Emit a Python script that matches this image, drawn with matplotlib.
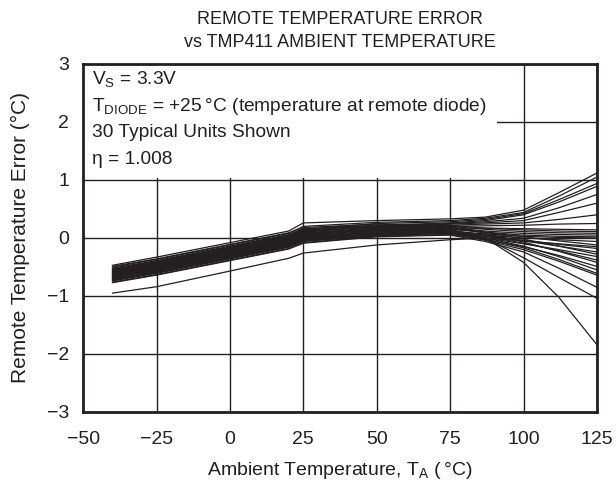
import matplotlib
matplotlib.use('Agg')
import matplotlib.pyplot as plt
from matplotlib.patches import Rectangle

plt.rcParams['font.family'] = ['Liberation Sans', 'DejaVu Sans']
plt.rcParams['mathtext.fontset'] = 'custom'
plt.rcParams['mathtext.rm'] = 'Liberation Sans'

# ambient temperature sample points (deg C)
temps = [-40, -25, 0, 20, 25, 50, 75, 87, 100, 112, 125]

# remote temperature error for 30 units (deg C)
units = [
    [-0.47, -0.33, -0.08, 0.12, 0.26, 0.30, 0.33, 0.36, 0.48, 0.78, 1.12],
    [-0.50, -0.37, -0.12, 0.08, 0.20, 0.27, 0.30, 0.34, 0.44, 0.72, 1.05],
    [-0.53, -0.40, -0.15, 0.05, 0.15, 0.25, 0.28, 0.32, 0.42, 0.66, 0.94],
    [-0.55, -0.42, -0.17, 0.03, 0.13, 0.22, 0.26, 0.30, 0.40, 0.62, 0.89],
    [-0.58, -0.45, -0.20, 0.00, 0.10, 0.20, 0.25, 0.28, 0.34, 0.52, 0.75],
    [-0.60, -0.47, -0.22, -0.02, 0.08, 0.18, 0.24, 0.26, 0.30, 0.44, 0.60],
    [-0.62, -0.49, -0.24, -0.04, 0.06, 0.17, 0.22, 0.24, 0.26, 0.32, 0.40],
    [-0.64, -0.51, -0.26, -0.06, 0.04, 0.15, 0.20, 0.21, 0.22, 0.24, 0.25],
    [-0.66, -0.53, -0.28, -0.08, 0.02, 0.13, 0.17, 0.17, 0.16, 0.15, 0.14],
    [-0.49, -0.36, -0.11, 0.09, 0.18, 0.24, 0.22, 0.17, 0.14, 0.12, 0.11],
    [-0.52, -0.39, -0.14, 0.06, 0.16, 0.22, 0.20, 0.15, 0.11, 0.09, 0.08],
    [-0.56, -0.43, -0.18, 0.02, 0.12, 0.19, 0.18, 0.12, 0.08, 0.06, 0.05],
    [-0.59, -0.46, -0.21, -0.01, 0.09, 0.16, 0.15, 0.10, 0.05, 0.03, 0.02],
    [-0.68, -0.55, -0.30, -0.10, 0.00, 0.10, 0.12, 0.07, 0.03, 0.01, 0.00],
    [-0.70, -0.57, -0.32, -0.12, -0.02, 0.08, 0.10, 0.05, 0.00, -0.03, -0.06],
    [-0.61, -0.48, -0.23, -0.03, 0.07, 0.16, 0.16, 0.10, 0.02, -0.05, -0.12],
    [-0.63, -0.50, -0.25, -0.05, 0.05, 0.14, 0.15, 0.00, -0.42, -1.02, -1.84],
    [-0.72, -0.59, -0.34, -0.14, -0.04, 0.06, 0.09, 0.03, -0.04, -0.11, -0.18],
    [-0.65, -0.52, -0.27, -0.07, 0.03, 0.12, 0.13, 0.05, -0.05, -0.14, -0.24],
    [-0.57, -0.44, -0.19, 0.01, 0.11, 0.20, 0.19, 0.10, -0.02, -0.14, -0.28],
    [-0.74, -0.61, -0.36, -0.16, -0.06, 0.04, 0.08, 0.00, -0.10, -0.20, -0.32],
    [-0.67, -0.54, -0.29, -0.09, 0.01, 0.11, 0.12, 0.03, -0.09, -0.22, -0.38],
    [-0.54, -0.41, -0.16, 0.04, 0.14, 0.21, 0.19, 0.08, -0.07, -0.23, -0.42],
    [-0.76, -0.63, -0.38, -0.18, -0.08, 0.03, 0.06, -0.03, -0.15, -0.30, -0.49],
    [-0.69, -0.56, -0.31, -0.11, -0.01, 0.09, 0.10, 0.00, -0.14, -0.32, -0.55],
    [-0.71, -0.58, -0.33, -0.13, -0.03, 0.07, 0.09, -0.02, -0.17, -0.37, -0.61],
    [-0.73, -0.60, -0.35, -0.15, -0.05, 0.05, 0.08, -0.04, -0.20, -0.40, -0.64],
    [-0.77, -0.64, -0.39, -0.19, -0.09, 0.02, 0.05, -0.06, -0.24, -0.52, -0.85],
    [-0.62, -0.49, -0.24, -0.04, 0.06, 0.14, 0.12, 0.00, -0.34, -0.68, -1.04],
    [-0.95, -0.84, -0.57, -0.35, -0.26, -0.12, -0.03, 0.00, -0.05, -0.10, -0.15],
]

xticks = [-50, -25, 0, 25, 50, 75, 100, 125]
yticks = [-3, -2, -1, 0, 1, 2, 3]

fig = plt.figure(figsize=(6.16, 4.83), dpi=100)
ax = fig.add_axes([0.135, 0.147, 0.834, 0.7205])

for vals in units:
    ax.plot(temps, vals, color='#231f20', lw=0.9, zorder=3)

ax.set_xlim(-50, 125)
ax.set_ylim(-3, 3)
ax.set_xticks(xticks)
ax.set_yticks(yticks)
ax.set_xticklabels([str(t).replace('-', '\u2212') for t in xticks])
ax.set_yticklabels([str(t).replace('-', '\u2212') for t in yticks])
ax.tick_params(length=0, labelsize=14, colors='#231f20')
ax.tick_params(axis='x', pad=14)
ax.tick_params(axis='y', pad=10)
ax.grid(True, color='#231f20', lw=1.0)
ax.set_axisbelow(True)
for s in ax.spines.values():
    s.set_linewidth(2.0)
    s.set_color('#231f20')

# white note box over the grid
ax.add_patch(Rectangle((0, 0.672), 0.805, 0.328, transform=ax.transAxes,
                       facecolor='white', edgecolor='none', zorder=1.5))

notes = [
    r'V$_\mathregular{S}$ = 3.3V',
    'T$_\\mathregular{DIODE}$ = +25\u2009\u00b0C (temperature at remote diode)',
    '30 Typical Units Shown',
    '\u03b7 = 1.008',
]
for i, t in enumerate(notes):
    ax.text(0.017, 0.985 - i * 0.078, t, transform=ax.transAxes, fontsize=13.8,
            va='top', ha='left', color='#231f20', zorder=4)

ax.set_xlabel('Ambient Temperature, T$_\\mathregular{A}$ (\u2009\u00b0C)',
              fontsize=14, color='#231f20', labelpad=8)
ax.set_ylabel('Remote Temperature Error (\u00b0C)', fontsize=15,
              color='#231f20', labelpad=12)
ax.set_title('REMOTE TEMPERATURE ERROR\nvs TMP411 AMBIENT TEMPERATURE',
             fontsize=13, color='#231f20', pad=12, linespacing=1.5)

fig.savefig('out.png', dpi=100)
